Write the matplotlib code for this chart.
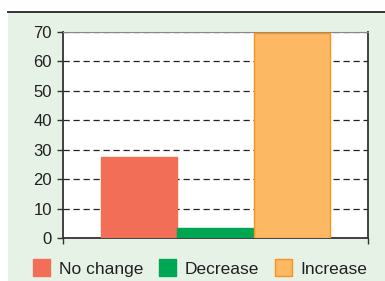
import matplotlib
matplotlib.use("Agg")
import matplotlib.pyplot as plt
from matplotlib.patches import Rectangle, Patch
from matplotlib.lines import Line2D

categories = ["No change", "Decrease", "Increase"]
values = [27.5, 3.3, 69.7]
colors = ["#f26e56", "#00a651", "#fdb863"]
edges = ["#f26e56", "#00a651", "#f7941d"]
yticks = [0, 10, 20, 30, 40, 50, 60, 70]

plt.rcParams['font.family'] = ['Liberation Sans', 'DejaVu Sans']

W, H = 385, 281
fig = plt.figure(figsize=(W / 100, H / 100), dpi=100)
fig.patch.set_facecolor("white")

# green panel background and top rule
fig.patches.append(Rectangle((8 / W, 0), 1 - 8 / W, 1 - 12 / H, transform=fig.transFigure,
                             facecolor="#e6f2e6", edgecolor="none", zorder=-10))
fig.lines.append(Line2D([8 / W, 1], [1 - 11.5 / H, 1 - 11.5 / H], transform=fig.transFigure,
                        color="#333333", linewidth=1.4, zorder=-9))

ax = fig.add_axes([63 / W, 1 - 238 / H, (368 - 63) / W, (238 - 32) / H])
ax.set_zorder(1)
ax.set_facecolor("white")

x = list(range(len(categories)))
for i in x:
    ax.bar(i, values[i], width=1.0, color=colors[i], edgecolor=edges[i], linewidth=1.0, zorder=3)

ax.set_xlim(-1, 3)
ax.set_ylim(0, 70)
ax.set_yticks(yticks)
ax.set_yticklabels([str(t) for t in yticks], fontsize=12, color="#231f20")
ax.set_xticks([-1, 3])
ax.set_xticklabels([])
ax.tick_params(axis="x", direction="out", length=4, width=1.0, color="#333333")
ax.tick_params(axis="y", direction="out", length=4, width=1.0, color="#333333", pad=4)

ax.yaxis.grid(True, linestyle=(0, (5, 3)), color="#222222", linewidth=0.9, zorder=1)
ax.set_axisbelow(True)

for s in ["left", "bottom", "right"]:
    ax.spines[s].set_color("#333333")
    ax.spines[s].set_linewidth(1.3)
ax.spines["top"].set_color("#888888")
ax.spines["top"].set_linewidth(0.8)

handles = [Patch(facecolor=colors[i], edgecolor=edges[i], label=categories[i]) for i in x]
fig.legend(handles=handles, loc="center", bbox_to_anchor=(0.52, 1 - 268 / H), ncol=3,
           frameon=False, fontsize=12.5, handlelength=1.0, handleheight=1.1,
           handletextpad=0.5, columnspacing=0.9, labelcolor="#231f20")

fig.savefig("out.png", dpi=100, facecolor=fig.get_facecolor())
